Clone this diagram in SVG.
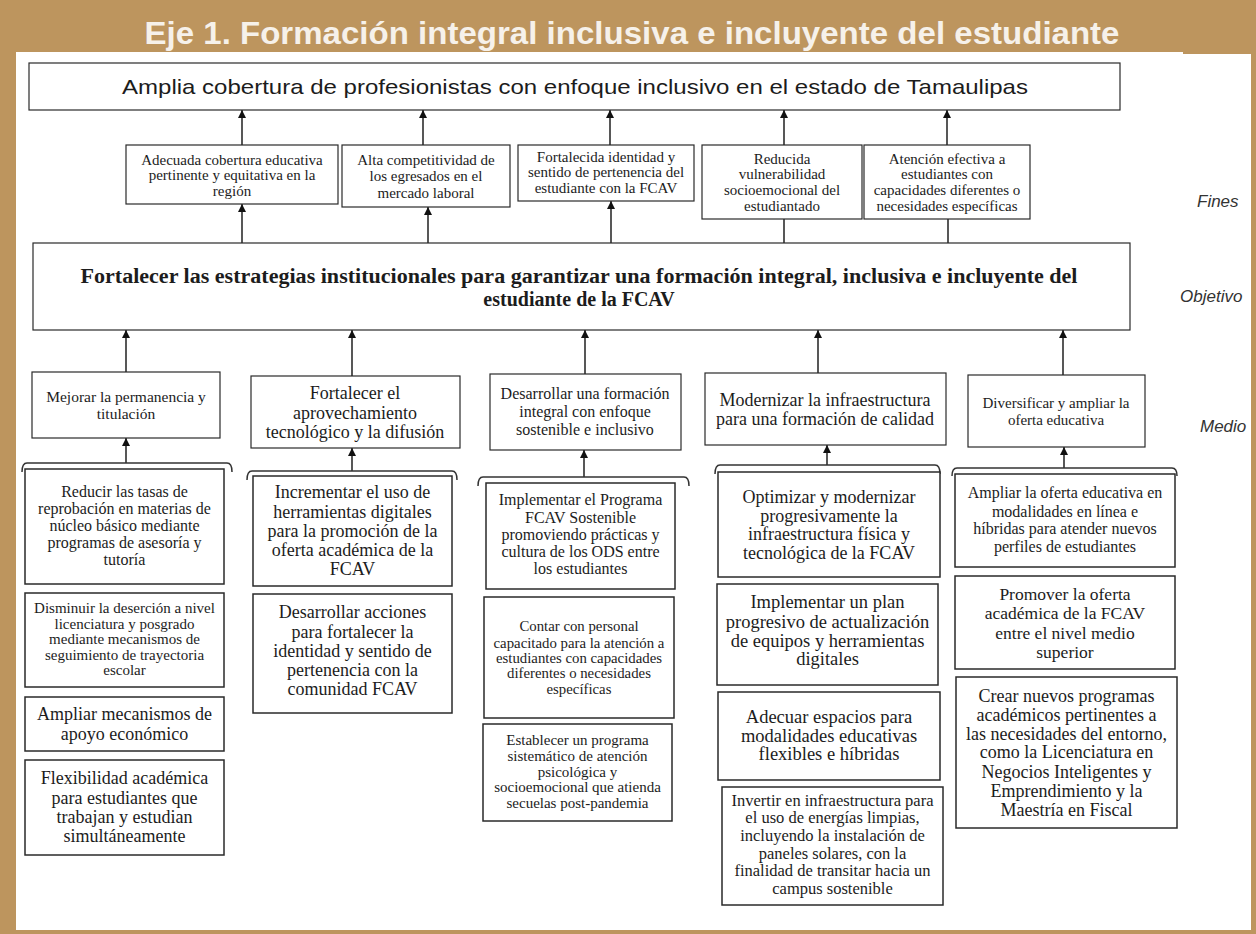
<svg xmlns="http://www.w3.org/2000/svg" width="1256" height="934" viewBox="0 0 1256 934">
<defs>
<marker id="ah" markerUnits="userSpaceOnUse" markerWidth="8" markerHeight="9" refX="8" refY="4" orient="auto">
<path d="M0,0 L8,4 L0,8 z" fill="#111"/>
</marker>
<style>
.box{fill:#fff;stroke:#2a2a2a;stroke-width:1.5}
.tb{fill:#fff;stroke:#2a2a2a;stroke-width:1.2}
.t{font-family:"Liberation Serif","Times New Roman",serif;fill:#1c1c1c;text-anchor:middle}
.lbl{font-family:"Liberation Sans",Arial,sans-serif;font-style:italic;font-size:17px;fill:#333}
.ar{stroke:#111;stroke-width:1.4;fill:none;marker-end:url(#ah)}
.ln{stroke:#111;stroke-width:1.4;fill:none}
.br{stroke:#333;stroke-width:1.5;fill:none}
</style>
</defs>
<rect x="0" y="0" width="1256" height="934" fill="#bd955e"/>
<path d="M16,52 H1183 V54 H1251 V930 H16 Z" fill="#fff"/>
<text x="632" y="44" font-family="Liberation Sans,Arial,sans-serif" font-weight="bold" font-size="32" fill="#f6f1ea" text-anchor="middle" textLength="975" lengthAdjust="spacingAndGlyphs">Eje 1. Formación integral inclusiva e incluyente del estudiante</text>

<g id="labels">
<text class="lbl" x="1197" y="207">Fines</text>
<text class="lbl" x="1180" y="302">Objetivo</text>
<text class="lbl" x="1200" y="432">Medio</text>
</g>

<g id="connectors">
<line class="ar" x1="242" y1="145" x2="242" y2="110"/>
<line class="ar" x1="423" y1="145" x2="423" y2="110"/>
<line class="ar" x1="610" y1="145" x2="610" y2="110"/>
<line class="ar" x1="784" y1="145" x2="784" y2="110"/>
<line class="ar" x1="947" y1="145" x2="947" y2="110"/>
<line class="ar" x1="242" y1="243" x2="242" y2="204"/>
<line class="ar" x1="428" y1="243" x2="428" y2="207"/>
<line class="ar" x1="611" y1="243" x2="611" y2="201"/>
<line class="ln" x1="784" y1="243" x2="784" y2="219"/>
<line class="ln" x1="948" y1="243" x2="948" y2="219"/>
<line class="ar" x1="126" y1="372" x2="126" y2="330"/>
<line class="ar" x1="352" y1="376" x2="352" y2="330"/>
<line class="ar" x1="585" y1="374" x2="585" y2="330"/>
<line class="ar" x1="818" y1="373" x2="818" y2="330"/>
<line class="ar" x1="1063" y1="375" x2="1063" y2="330"/>
<line class="ar" x1="126" y1="463" x2="126" y2="438"/>
<line class="ar" x1="352" y1="471" x2="352" y2="448"/>
<line class="ar" x1="584" y1="477" x2="584" y2="450"/>
<line class="ar" x1="827" y1="465" x2="827" y2="445"/>
<line class="ar" x1="1064" y1="468" x2="1064" y2="447"/>
<path class="br" d="M22,472 Q22,463 27,463 L227,463 Q232,463 232,472"/>
<path class="br" d="M247,480 Q247,471 252,471 L452,471 Q457,471 457,480"/>
<path class="br" d="M478,486 Q478,477 483,477 L684,477 Q689,477 689,486"/>
<path class="br" d="M715,474 Q715,465 720,465 L935,465 Q940,465 940,474"/>
<path class="br" d="M952,476 Q952,468 957,468 L1172,468 Q1177,468 1177,476"/>
</g>

<g id="fin-top">
<rect class="tb" x="29" y="63" width="1091" height="47"/>
<text x="575" y="94" font-family="Liberation Sans,Arial,sans-serif" font-size="21" fill="#1c1c1c" text-anchor="middle" textLength="906" lengthAdjust="spacingAndGlyphs">Amplia cobertura de profesionistas con enfoque inclusivo en el estado de Tamaulipas</text>
</g>

<g id="fin-1">
<rect class="tb" x="126" y="145" width="212" height="59"/>
<text class="t" font-size="15"><tspan x="232" y="165">Adecuada cobertura educativa</tspan><tspan x="232" y="180">pertinente y equitativa en la</tspan><tspan x="232" y="196">región</tspan></text>
</g>
<g id="fin-2">
<rect class="tb" x="342" y="145" width="168" height="62"/>
<text class="t" font-size="15"><tspan x="426" y="165">Alta competitividad de</tspan><tspan x="426" y="181">los egresados en el</tspan><tspan x="426" y="198">mercado laboral</tspan></text>
</g>
<g id="fin-3">
<rect class="tb" x="518" y="145" width="176" height="56"/>
<text class="t" font-size="15"><tspan x="606" y="162">Fortalecida identidad y</tspan><tspan x="606" y="177">sentido de pertenencia del</tspan><tspan x="606" y="193">estudiante con la FCAV</tspan></text>
</g>
<g id="fin-4">
<rect class="tb" x="702" y="145" width="160" height="74"/>
<text class="t" font-size="15"><tspan x="782" y="164">Reducida</tspan><tspan x="782" y="179">vulnerabilidad</tspan><tspan x="782" y="195">socioemocional del</tspan><tspan x="782" y="211">estudiantado</tspan></text>
</g>
<g id="fin-5">
<rect class="tb" x="864" y="145" width="166" height="74"/>
<text class="t" font-size="15"><tspan x="947" y="164">Atención efectiva a</tspan><tspan x="947" y="179">estudiantes con</tspan><tspan x="947" y="195">capacidades diferentes o</tspan><tspan x="947" y="211">necesidades específicas</tspan></text>
</g>

<g id="objetivo">
<rect class="tb" x="33" y="243" width="1097" height="87"/>
<text class="t" font-size="20" font-weight="bold"><tspan x="579" y="283" textLength="997" lengthAdjust="spacingAndGlyphs">Fortalecer las estrategias institucionales  para garantizar una formación  integral, inclusiva e incluyente del</tspan><tspan x="579" y="306">estudiante de la FCAV</tspan></text>
</g>

<g id="medio-1">
<rect class="tb" x="32" y="372" width="188" height="66"/>
<text class="t" font-size="15.5"><tspan x="126" y="402">Mejorar  la permanencia  y</tspan><tspan x="126" y="419">titulación</tspan></text>
</g>
<g id="medio-2">
<rect class="tb" x="251" y="376" width="209" height="72"/>
<text class="t" font-size="18"><tspan x="355" y="399">Fortalecer el</tspan><tspan x="355" y="419">aprovechamiento</tspan><tspan x="355" y="438">tecnológico y la difusión</tspan></text>
</g>
<g id="medio-3">
<rect class="tb" x="490" y="374" width="191" height="76"/>
<text class="t" font-size="16"><tspan x="585" y="399">Desarrollar una formación</tspan><tspan x="585" y="417">integral  con enfoque</tspan><tspan x="585" y="435">sostenible e inclusivo</tspan></text>
</g>
<g id="medio-4">
<rect class="tb" x="705" y="373" width="241" height="72"/>
<text class="t" font-size="18"><tspan x="825" y="406">Modernizar la infraestructura</tspan><tspan x="825" y="425">para una formación de calidad</tspan></text>
</g>
<g id="medio-5">
<rect class="tb" x="968" y="375" width="177" height="72"/>
<text class="t" font-size="15"><tspan x="1056" y="408">Diversificar y ampliar la</tspan><tspan x="1056" y="425">oferta educativa</tspan></text>
</g>

<g id="c1-a">
<rect class="box" x="25" y="469" width="199" height="115"/>
<text class="t" font-size="16"><tspan x="124.5" y="497">Reducir  las  tasas  de</tspan><tspan x="124.5" y="514">reprobación  en  materias  de</tspan><tspan x="124.5" y="531">núcleo  básico  mediante</tspan><tspan x="124.5" y="548">programas  de asesoría y</tspan><tspan x="124.5" y="565">tutoría</tspan></text>
</g>
<g id="c1-b">
<rect class="box" x="25" y="593" width="199" height="94"/>
<text class="t" font-size="15"><tspan x="124.5" y="613">Disminuir la deserción a nivel</tspan><tspan x="124.5" y="629">licenciatura y posgrado</tspan><tspan x="124.5" y="644">mediante mecanismos de</tspan><tspan x="124.5" y="660">seguimiento de trayectoria</tspan><tspan x="124.5" y="675">escolar</tspan></text>
</g>
<g id="c1-c">
<rect class="box" x="25" y="697" width="199" height="54"/>
<text class="t" font-size="18"><tspan x="124.5" y="720">Ampliar mecanismos de</tspan><tspan x="124.5" y="740">apoyo económico</tspan></text>
</g>
<g id="c1-d">
<rect class="box" x="25" y="760" width="199" height="95"/>
<text class="t" font-size="18"><tspan x="124.5" y="784">Flexibilidad académica</tspan><tspan x="124.5" y="804">para estudiantes que</tspan><tspan x="124.5" y="823">trabajan y estudian</tspan><tspan x="124.5" y="842">simultáneamente</tspan></text>
</g>

<g id="c2-a">
<rect class="box" x="253" y="476" width="199" height="110"/>
<text class="t" font-size="18"><tspan x="352.5" y="498">Incrementar el uso de</tspan><tspan x="352.5" y="518">herramientas digitales</tspan><tspan x="352.5" y="537">para la promoción de la</tspan><tspan x="352.5" y="556">oferta académica de la</tspan><tspan x="352.5" y="575">FCAV</tspan></text>
</g>
<g id="c2-b">
<rect class="box" x="253" y="594" width="199" height="119"/>
<text class="t" font-size="18"><tspan x="352.5" y="618">Desarrollar acciones</tspan><tspan x="352.5" y="638">para fortalecer la</tspan><tspan x="352.5" y="657">identidad y sentido de</tspan><tspan x="352.5" y="676">pertenencia con la</tspan><tspan x="352.5" y="695">comunidad FCAV</tspan></text>
</g>

<g id="c3-a">
<rect class="box" x="486" y="483" width="189" height="106"/>
<text class="t" font-size="16"><tspan x="580.5" y="505">Implementar  el Programa</tspan><tspan x="580.5" y="523">FCAV Sostenible</tspan><tspan x="580.5" y="540">promoviendo  prácticas  y</tspan><tspan x="580.5" y="557">cultura  de  los ODS entre</tspan><tspan x="580.5" y="574">los estudiantes</tspan></text>
</g>
<g id="c3-b">
<rect class="box" x="484" y="597" width="190" height="121"/>
<text class="t" font-size="14.8"><tspan x="579" y="631">Contar con personal</tspan><tspan x="579" y="648">capacitado para la atención a</tspan><tspan x="579" y="663">estudiantes con capacidades</tspan><tspan x="579" y="678">diferentes o necesidades</tspan><tspan x="579" y="694">específicas</tspan></text>
</g>
<g id="c3-c">
<rect class="box" x="483" y="724" width="189" height="97"/>
<text class="t" font-size="15"><tspan x="577.5" y="745">Establecer un programa</tspan><tspan x="577.5" y="761">sistemático de atención</tspan><tspan x="577.5" y="777">psicológica y</tspan><tspan x="577.5" y="792">socioemocional que atienda</tspan><tspan x="577.5" y="808">secuelas post-pandemia</tspan></text>
</g>

<g id="c4-a">
<rect class="box" x="718" y="472" width="222" height="105"/>
<text class="t" font-size="18"><tspan x="829" y="503">Optimizar y modernizar</tspan><tspan x="829" y="522">progresivamente la</tspan><tspan x="829" y="540">infraestructura física y</tspan><tspan x="829" y="559">tecnológica de la FCAV</tspan></text>
</g>
<g id="c4-b">
<rect class="box" x="717" y="584" width="221" height="101"/>
<text class="t" font-size="18.5"><tspan x="827.5" y="608">Implementar un plan</tspan><tspan x="827.5" y="628">progresivo de actualización</tspan><tspan x="827.5" y="647">de equipos y herramientas</tspan><tspan x="827.5" y="665">digitales</tspan></text>
</g>
<g id="c4-c">
<rect class="box" x="718" y="692" width="222" height="88"/>
<text class="t" font-size="18.5"><tspan x="829" y="723">Adecuar espacios para</tspan><tspan x="829" y="742">modalidades educativas</tspan><tspan x="829" y="760">flexibles e híbridas</tspan></text>
</g>
<g id="c4-d">
<rect class="box" x="722" y="787" width="221" height="118"/>
<text class="t" font-size="16.5"><tspan x="832.5" y="806">Invertir  en infraestructura  para</tspan><tspan x="832.5" y="823">el uso de energías  limpias,</tspan><tspan x="832.5" y="841">incluyendo  la  instalación  de</tspan><tspan x="832.5" y="859">paneles  solares, con  la</tspan><tspan x="832.5" y="876">finalidad  de transitar  hacia  un</tspan><tspan x="832.5" y="894">campus  sostenible</tspan></text>
</g>

<g id="c5-a">
<rect class="box" x="955" y="474" width="220" height="93"/>
<text class="t" font-size="16"><tspan x="1065" y="498">Ampliar  la oferta educativa  en</tspan><tspan x="1065" y="517">modalidades  en línea e</tspan><tspan x="1065" y="534">híbridas  para atender  nuevos</tspan><tspan x="1065" y="552">perfiles  de estudiantes</tspan></text>
</g>
<g id="c5-b">
<rect class="box" x="955" y="576" width="220" height="93"/>
<text class="t" font-size="17.5"><tspan x="1065" y="600">Promover la oferta</tspan><tspan x="1065" y="619">académica de la FCAV</tspan><tspan x="1065" y="639">entre el nivel medio</tspan><tspan x="1065" y="658">superior</tspan></text>
</g>
<g id="c5-c">
<rect class="box" x="956" y="677" width="221" height="151"/>
<text class="t" font-size="18"><tspan x="1066.5" y="702">Crear nuevos programas</tspan><tspan x="1066.5" y="721">académicos pertinentes a</tspan><tspan x="1066.5" y="740">las necesidades del entorno,</tspan><tspan x="1066.5" y="758">como la Licenciatura en</tspan><tspan x="1066.5" y="778">Negocios Inteligentes y</tspan><tspan x="1066.5" y="797">Emprendimiento y la</tspan><tspan x="1066.5" y="816">Maestría en Fiscal</tspan></text>
</g>
</svg>
